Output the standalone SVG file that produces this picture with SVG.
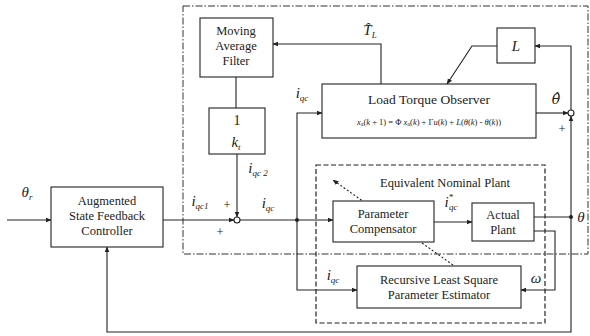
<svg xmlns="http://www.w3.org/2000/svg" width="590" height="336" viewBox="0 0 590 336" font-family="'Liberation Serif', 'DejaVu Serif', 'Times New Roman', serif">
<defs>
<marker id="ar" viewBox="0 0 10 10" refX="9" refY="5" markerWidth="6" markerHeight="6" orient="auto-start-reverse" markerUnits="userSpaceOnUse">
<path d="M0,1 L10,5 L0,9 z" fill="#222"/>
</marker>
<style>
.box{fill:#fff;stroke:#222;stroke-width:1.1}
.ln{fill:none;stroke:#222;stroke-width:1.1}
.dd{fill:none;stroke:#333;stroke-width:1;stroke-dasharray:7,2,1.5,2}
.ds{fill:none;stroke:#222;stroke-width:1.2;stroke-dasharray:5,2.5}
.dt{fill:none;stroke:#222;stroke-width:1.1;stroke-dasharray:2,2}
.t{font-family:'Liberation Serif','DejaVu Serif',serif;font-size:12.5px;fill:#222;text-anchor:middle}
.m{font-family:'Liberation Serif','DejaVu Serif',serif;font-style:italic;font-size:15px;fill:#222;text-anchor:middle}
.s{font-size:9px}
.eq{font-family:'Liberation Serif','DejaVu Serif',serif;font-size:8.5px;fill:#222;text-anchor:middle}
</style>
</defs>

<rect class="dd" x="183" y="6" width="405" height="248"/>
<rect class="ds" x="316" y="165" width="229" height="158"/>
<text class="t" x="445" y="187">Equivalent Nominal Plant</text>

<g id="connectors">
<line class="ln" x1="7" y1="220" x2="51" y2="220" marker-end="url(#ar)"/>
<line class="ln" x1="163" y1="220" x2="234" y2="220" marker-end="url(#ar)"/>
<line class="ln" x1="236" y1="77" x2="236" y2="108"/>
<line class="ln" x1="237" y1="154" x2="237" y2="217" marker-end="url(#ar)"/>
<line class="ln" x1="240" y1="220" x2="333" y2="220" marker-end="url(#ar)"/>
<polyline class="ln" points="297,220 297,113 322,113" marker-end="url(#ar)"/>
<polyline class="ln" points="297,220 297,290 357,290" marker-end="url(#ar)"/>
<circle cx="297" cy="220" r="2" fill="#222"/>
<line class="ln" x1="434" y1="222" x2="472" y2="222" marker-end="url(#ar)"/>
<line class="ln" x1="534" y1="217" x2="571" y2="217"/>
<circle cx="571" cy="217" r="2" fill="#222"/>
<polyline class="ln" points="534,231 555,231 555,290 521,290" marker-end="url(#ar)"/>
<line class="ln" x1="571" y1="217" x2="571" y2="116" marker-end="url(#ar)"/>
<polyline class="ln" points="571,217 571,332 107,332 107,247" marker-end="url(#ar)"/>
<line class="ln" x1="536" y1="113" x2="568" y2="113" marker-end="url(#ar)"/>
<polyline class="ln" points="571,110 571,46 535,46" marker-end="url(#ar)"/>
<polyline class="ln" points="497,46 472,46 447,84" marker-end="url(#ar)"/>
<polyline class="ln" points="381,84 381,44 273,44" marker-end="url(#ar)"/>
<line class="dt" x1="453" y1="265" x2="333" y2="180" marker-end="url(#ar)"/>
<circle cx="237" cy="220" r="3" fill="#fff" stroke="#222" stroke-width="1.1"/>
<circle cx="571" cy="113" r="3" fill="#fff" stroke="#222" stroke-width="1.1"/>
</g>

<g id="controller">
<rect class="box" x="51" y="187" width="112" height="60"/>
<text class="t" x="107" y="205">Augmented</text>
<text class="t" x="107" y="220">State Feedback</text>
<text class="t" x="107" y="235">Controller</text>
</g>
<g id="maf">
<rect class="box" x="200" y="18" width="73" height="59"/>
<text class="t" x="236" y="35">Moving</text>
<text class="t" x="236" y="50">Average</text>
<text class="t" x="236" y="65">Filter</text>
</g>
<g id="gain">
<rect class="box" x="209" y="108" width="56" height="46"/>
<text class="t" x="237" y="125" style="font-size:14px">1</text>
<text class="m" x="236" y="147">k<tspan class="s" dy="3">t</tspan></text>
</g>
<g id="lto">
<rect class="box" x="322" y="84" width="214" height="54"/>
<text class="t" x="429" y="104" style="font-size:13.5px">Load Torque Observer</text>
<text class="eq" x="429" y="125"><tspan font-style="italic">x</tspan><tspan font-size="6" dy="1">a</tspan><tspan dy="-1">(</tspan><tspan font-style="italic">k</tspan> + 1) = Φ <tspan font-style="italic">x</tspan><tspan font-size="6" dy="1">a</tspan><tspan dy="-1">(</tspan><tspan font-style="italic">k</tspan>) + Γ<tspan font-style="italic">u</tspan>(<tspan font-style="italic">k</tspan>) + <tspan font-style="italic">L</tspan>(<tspan font-style="italic">θ</tspan>(<tspan font-style="italic">k</tspan>) - <tspan font-style="italic">θ</tspan>(<tspan font-style="italic">k</tspan>))</text>
</g>
<g id="lgain">
<rect class="box" x="497" y="28" width="38" height="35"/>
<text class="m" x="516" y="51">L</text>
</g>
<g id="pc">
<rect class="box" x="333" y="201" width="101" height="41"/>
<text class="t" x="383" y="218">Parameter</text>
<text class="t" x="383" y="233">Compensator</text>
</g>
<g id="plant">
<rect class="box" x="472" y="203" width="62" height="38"/>
<text class="t" x="503" y="219">Actual</text>
<text class="t" x="503" y="234">Plant</text>
</g>
<g id="rls">
<rect class="box" x="357" y="266" width="164" height="42"/>
<text class="t" x="439" y="284">Recursive Least Square</text>
<text class="t" x="439" y="299">Parameter Estimator</text>
</g>

<g id="labels">
<text class="m" x="27" y="197">θ<tspan class="s" dy="3">r</tspan></text>
<text class="m" x="200" y="206">i<tspan class="s" dy="3">qc1</tspan></text>
<text class="t" x="227" y="209">+</text>
<text class="t" x="220" y="236">+</text>
<text class="m" x="258" y="173">i<tspan class="s" dy="3">qc 2</tspan></text>
<text class="m" x="268" y="208">i<tspan class="s" dy="3">qc</tspan></text>
<text class="m" x="302" y="98">i<tspan class="s" dy="3">qc</tspan></text>
<text class="m" x="333" y="280">i<tspan class="s" dy="3">qc</tspan></text>
<text class="m" x="451" y="207">i<tspan class="s" dy="-7">*</tspan><tspan class="s" dx="-4" dy="10">qc</tspan></text>
<text class="m" x="536" y="283">ω</text>
<text class="m" x="581" y="222">θ</text>
<text class="m" x="556" y="104" style="font-family:'DejaVu Serif',serif;font-size:14px">θ̂</text>
<text class="m" x="370" y="35">T̂<tspan class="s" dy="3">L</tspan></text>
<text class="t" x="562" y="133">+</text>
</g>
</svg>
